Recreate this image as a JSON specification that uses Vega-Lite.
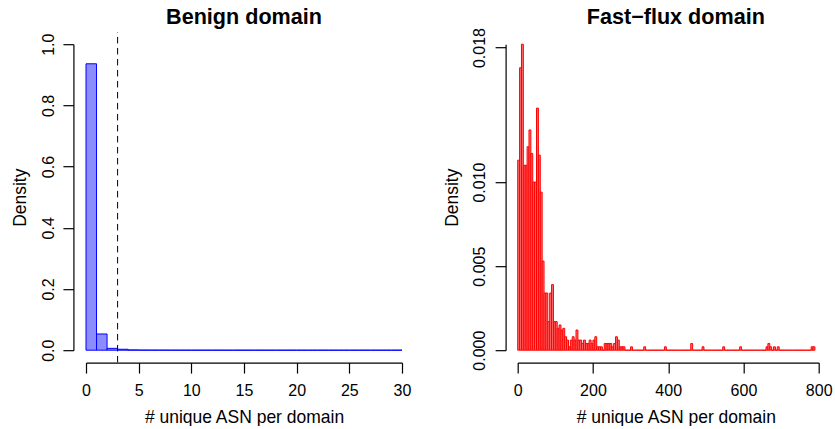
{
  "$schema": "https://vega.github.io/schema/vega-lite/v6.json",
  "background": "white",
  "autosize": {"type": "pad"},
  "padding": {"left": 11, "top": 6.2, "right": 0, "bottom": 0},
  "bounds": "flush",
  "spacing": 115.7,
  "config": {
    "view": {"stroke": null},
    "font": "Liberation Sans",
    "axis": {
      "grid": false,
      "domainColor": "#000000",
      "domainWidth": 1.2,
      "tickColor": "#000000",
      "tickWidth": 1.2,
      "tickSize": 10.5,
      "labelColor": "#000000",
      "labelFont": "Liberation Sans",
      "labelFontSize": 16,
      "labelFlush": false,
      "labelOverlap": false,
      "titleColor": "#000000",
      "titleFont": "Liberation Sans",
      "titleFontSize": 17.5,
      "titleFontWeight": "normal",
      "minExtent": 0,
      "maxExtent": 500
    },
    "title": {
      "font": "Liberation Sans",
      "fontSize": 21.6,
      "fontWeight": "bold",
      "color": "#000000",
      "anchor": "middle",
      "frame": "group"
    }
  },
  "datasets": {
    "benign": [
      {"bin_start": 0, "bin_end": 1, "density": 0.936},
      {"bin_start": 1, "bin_end": 2, "density": 0.053},
      {"bin_start": 2, "bin_end": 3, "density": 0.006},
      {"bin_start": 3, "bin_end": 4, "density": 0.003},
      {"bin_start": 4, "bin_end": 5, "density": 0.0008},
      {"bin_start": 5, "bin_end": 6, "density": 0.0004},
      {"bin_start": 6, "bin_end": 7, "density": 0.0003},
      {"bin_start": 7, "bin_end": 8, "density": 0.0002},
      {"bin_start": 8, "bin_end": 9, "density": 0.0001},
      {"bin_start": 9, "bin_end": 10, "density": 0.0001},
      {"bin_start": 10, "bin_end": 11, "density": 0.0001},
      {"bin_start": 11, "bin_end": 12, "density": 0.0001},
      {"bin_start": 12, "bin_end": 13, "density": 0.0001},
      {"bin_start": 13, "bin_end": 14, "density": 0},
      {"bin_start": 14, "bin_end": 15, "density": 0.0001},
      {"bin_start": 15, "bin_end": 16, "density": 0},
      {"bin_start": 16, "bin_end": 17, "density": 0.0001},
      {"bin_start": 17, "bin_end": 18, "density": 0},
      {"bin_start": 18, "bin_end": 19, "density": 0},
      {"bin_start": 19, "bin_end": 20, "density": 0.0001},
      {"bin_start": 20, "bin_end": 21, "density": 0},
      {"bin_start": 21, "bin_end": 22, "density": 0},
      {"bin_start": 22, "bin_end": 23, "density": 0.0001},
      {"bin_start": 23, "bin_end": 24, "density": 0},
      {"bin_start": 24, "bin_end": 25, "density": 0},
      {"bin_start": 25, "bin_end": 26, "density": 0},
      {"bin_start": 26, "bin_end": 27, "density": 0.0001},
      {"bin_start": 27, "bin_end": 28, "density": 0},
      {"bin_start": 28, "bin_end": 29, "density": 0},
      {"bin_start": 29, "bin_end": 30, "density": 0.0001}
    ],
    "fastflux": [
      {"bin_start": 0, "bin_end": 5, "density": 0.0113},
      {"bin_start": 5, "bin_end": 10, "density": 0.0168},
      {"bin_start": 10, "bin_end": 15, "density": 0.0182},
      {"bin_start": 15, "bin_end": 20, "density": 0.011},
      {"bin_start": 20, "bin_end": 25, "density": 0.011},
      {"bin_start": 25, "bin_end": 30, "density": 0.0121},
      {"bin_start": 30, "bin_end": 35, "density": 0.0131},
      {"bin_start": 35, "bin_end": 40, "density": 0.0117},
      {"bin_start": 40, "bin_end": 45, "density": 0.01},
      {"bin_start": 45, "bin_end": 50, "density": 0.01},
      {"bin_start": 50, "bin_end": 55, "density": 0.0144},
      {"bin_start": 55, "bin_end": 60, "density": 0.0116},
      {"bin_start": 60, "bin_end": 65, "density": 0.0094},
      {"bin_start": 65, "bin_end": 70, "density": 0.0053},
      {"bin_start": 70, "bin_end": 75, "density": 0.0034},
      {"bin_start": 75, "bin_end": 80, "density": 0.0034},
      {"bin_start": 80, "bin_end": 85, "density": 0.0017},
      {"bin_start": 85, "bin_end": 90, "density": 0.0034},
      {"bin_start": 90, "bin_end": 95, "density": 0.0039},
      {"bin_start": 95, "bin_end": 100, "density": 0.0017},
      {"bin_start": 100, "bin_end": 105, "density": 0.0017},
      {"bin_start": 105, "bin_end": 110, "density": 0.0013},
      {"bin_start": 110, "bin_end": 115, "density": 0.0015},
      {"bin_start": 115, "bin_end": 120, "density": 0.0012},
      {"bin_start": 120, "bin_end": 125, "density": 0.0013},
      {"bin_start": 125, "bin_end": 130, "density": 0.0008},
      {"bin_start": 130, "bin_end": 135, "density": 0.0006},
      {"bin_start": 135, "bin_end": 140, "density": 0.0002},
      {"bin_start": 140, "bin_end": 145, "density": 0.0006},
      {"bin_start": 145, "bin_end": 150, "density": 0.0008},
      {"bin_start": 150, "bin_end": 155, "density": 0.0006},
      {"bin_start": 155, "bin_end": 160, "density": 0.0012},
      {"bin_start": 160, "bin_end": 165, "density": 0.0006},
      {"bin_start": 165, "bin_end": 170, "density": 0.0006},
      {"bin_start": 170, "bin_end": 175, "density": 0.0004},
      {"bin_start": 175, "bin_end": 180, "density": 0.0006},
      {"bin_start": 180, "bin_end": 185, "density": 0.0004},
      {"bin_start": 185, "bin_end": 190, "density": 0.0004},
      {"bin_start": 190, "bin_end": 195, "density": 0.0006},
      {"bin_start": 195, "bin_end": 200, "density": 0.0004},
      {"bin_start": 200, "bin_end": 205, "density": 0.0006},
      {"bin_start": 205, "bin_end": 210, "density": 0.0008},
      {"bin_start": 210, "bin_end": 215, "density": 0.0002},
      {"bin_start": 215, "bin_end": 220, "density": 0.0002},
      {"bin_start": 220, "bin_end": 225, "density": 0.0002},
      {"bin_start": 225, "bin_end": 230, "density": 0},
      {"bin_start": 230, "bin_end": 235, "density": 0.0004},
      {"bin_start": 235, "bin_end": 240, "density": 0.0004},
      {"bin_start": 240, "bin_end": 245, "density": 0.0004},
      {"bin_start": 245, "bin_end": 250, "density": 0.0004},
      {"bin_start": 250, "bin_end": 255, "density": 0.0002},
      {"bin_start": 255, "bin_end": 260, "density": 0.0004},
      {"bin_start": 260, "bin_end": 265, "density": 0.0008},
      {"bin_start": 265, "bin_end": 270, "density": 0.0006},
      {"bin_start": 270, "bin_end": 275, "density": 0.0002},
      {"bin_start": 275, "bin_end": 280, "density": 0.0002},
      {"bin_start": 280, "bin_end": 285, "density": 0.0002},
      {"bin_start": 285, "bin_end": 290, "density": 0},
      {"bin_start": 290, "bin_end": 295, "density": 0},
      {"bin_start": 295, "bin_end": 300, "density": 0},
      {"bin_start": 300, "bin_end": 305, "density": 0.0002},
      {"bin_start": 305, "bin_end": 310, "density": 0},
      {"bin_start": 310, "bin_end": 315, "density": 0},
      {"bin_start": 315, "bin_end": 320, "density": 0},
      {"bin_start": 320, "bin_end": 325, "density": 0},
      {"bin_start": 325, "bin_end": 330, "density": 0},
      {"bin_start": 330, "bin_end": 335, "density": 0},
      {"bin_start": 335, "bin_end": 340, "density": 0.0002},
      {"bin_start": 340, "bin_end": 345, "density": 0},
      {"bin_start": 345, "bin_end": 350, "density": 0},
      {"bin_start": 350, "bin_end": 355, "density": 0},
      {"bin_start": 355, "bin_end": 360, "density": 0},
      {"bin_start": 360, "bin_end": 365, "density": 0},
      {"bin_start": 365, "bin_end": 370, "density": 0},
      {"bin_start": 370, "bin_end": 375, "density": 0},
      {"bin_start": 375, "bin_end": 380, "density": 0},
      {"bin_start": 380, "bin_end": 385, "density": 0},
      {"bin_start": 385, "bin_end": 390, "density": 0},
      {"bin_start": 390, "bin_end": 395, "density": 0.0002},
      {"bin_start": 395, "bin_end": 400, "density": 0},
      {"bin_start": 400, "bin_end": 405, "density": 0},
      {"bin_start": 405, "bin_end": 410, "density": 0},
      {"bin_start": 410, "bin_end": 415, "density": 0},
      {"bin_start": 415, "bin_end": 420, "density": 0},
      {"bin_start": 420, "bin_end": 425, "density": 0},
      {"bin_start": 425, "bin_end": 430, "density": 0},
      {"bin_start": 430, "bin_end": 435, "density": 0},
      {"bin_start": 435, "bin_end": 440, "density": 0},
      {"bin_start": 440, "bin_end": 445, "density": 0},
      {"bin_start": 445, "bin_end": 450, "density": 0},
      {"bin_start": 450, "bin_end": 455, "density": 0},
      {"bin_start": 455, "bin_end": 460, "density": 0},
      {"bin_start": 460, "bin_end": 465, "density": 0.0004},
      {"bin_start": 465, "bin_end": 470, "density": 0},
      {"bin_start": 470, "bin_end": 475, "density": 0},
      {"bin_start": 475, "bin_end": 480, "density": 0},
      {"bin_start": 480, "bin_end": 485, "density": 0},
      {"bin_start": 485, "bin_end": 490, "density": 0},
      {"bin_start": 490, "bin_end": 495, "density": 0.0002},
      {"bin_start": 495, "bin_end": 500, "density": 0},
      {"bin_start": 500, "bin_end": 505, "density": 0},
      {"bin_start": 505, "bin_end": 510, "density": 0},
      {"bin_start": 510, "bin_end": 515, "density": 0},
      {"bin_start": 515, "bin_end": 520, "density": 0},
      {"bin_start": 520, "bin_end": 525, "density": 0},
      {"bin_start": 525, "bin_end": 530, "density": 0},
      {"bin_start": 530, "bin_end": 535, "density": 0},
      {"bin_start": 535, "bin_end": 540, "density": 0},
      {"bin_start": 540, "bin_end": 545, "density": 0},
      {"bin_start": 545, "bin_end": 550, "density": 0.0002},
      {"bin_start": 550, "bin_end": 555, "density": 0},
      {"bin_start": 555, "bin_end": 560, "density": 0},
      {"bin_start": 560, "bin_end": 565, "density": 0},
      {"bin_start": 565, "bin_end": 570, "density": 0},
      {"bin_start": 570, "bin_end": 575, "density": 0},
      {"bin_start": 575, "bin_end": 580, "density": 0},
      {"bin_start": 580, "bin_end": 585, "density": 0},
      {"bin_start": 585, "bin_end": 590, "density": 0},
      {"bin_start": 590, "bin_end": 595, "density": 0.0002},
      {"bin_start": 595, "bin_end": 600, "density": 0},
      {"bin_start": 600, "bin_end": 605, "density": 0},
      {"bin_start": 605, "bin_end": 610, "density": 0},
      {"bin_start": 610, "bin_end": 615, "density": 0},
      {"bin_start": 615, "bin_end": 620, "density": 0},
      {"bin_start": 620, "bin_end": 625, "density": 0},
      {"bin_start": 625, "bin_end": 630, "density": 0},
      {"bin_start": 630, "bin_end": 635, "density": 0},
      {"bin_start": 635, "bin_end": 640, "density": 0},
      {"bin_start": 640, "bin_end": 645, "density": 0},
      {"bin_start": 645, "bin_end": 650, "density": 0},
      {"bin_start": 650, "bin_end": 655, "density": 0},
      {"bin_start": 655, "bin_end": 660, "density": 0},
      {"bin_start": 660, "bin_end": 665, "density": 0.0002},
      {"bin_start": 665, "bin_end": 670, "density": 0.0004},
      {"bin_start": 670, "bin_end": 675, "density": 0.0002},
      {"bin_start": 675, "bin_end": 680, "density": 0},
      {"bin_start": 680, "bin_end": 685, "density": 0.0002},
      {"bin_start": 685, "bin_end": 690, "density": 0},
      {"bin_start": 690, "bin_end": 695, "density": 0.0002},
      {"bin_start": 695, "bin_end": 700, "density": 0},
      {"bin_start": 700, "bin_end": 705, "density": 0},
      {"bin_start": 705, "bin_end": 710, "density": 0},
      {"bin_start": 710, "bin_end": 715, "density": 0},
      {"bin_start": 715, "bin_end": 720, "density": 0},
      {"bin_start": 720, "bin_end": 725, "density": 0},
      {"bin_start": 725, "bin_end": 730, "density": 0},
      {"bin_start": 730, "bin_end": 735, "density": 0},
      {"bin_start": 735, "bin_end": 740, "density": 0},
      {"bin_start": 740, "bin_end": 745, "density": 0},
      {"bin_start": 745, "bin_end": 750, "density": 0},
      {"bin_start": 750, "bin_end": 755, "density": 0},
      {"bin_start": 755, "bin_end": 760, "density": 0},
      {"bin_start": 760, "bin_end": 765, "density": 0},
      {"bin_start": 765, "bin_end": 770, "density": 0},
      {"bin_start": 770, "bin_end": 775, "density": 0},
      {"bin_start": 775, "bin_end": 780, "density": 0},
      {"bin_start": 780, "bin_end": 785, "density": 0.0002},
      {"bin_start": 785, "bin_end": 790, "density": 0.0002}
    ],
    "cutoff": [{"threshold": 3}]
  },
  "hconcat": [
    {
      "width": 316,
      "height": 306,
      "title": {"text": "Benign domain", "offset": 2.8},
      "layer": [
        {
          "data": {"name": "benign"},
          "mark": {"type": "rect", "fill": "#8c8cff", "stroke": "#0000ff", "strokeWidth": 1},
          "encoding": {
            "x": {
              "field": "bin_start",
              "type": "quantitative",
              "scale": {"domain": [0, 30], "nice": false, "zero": false},
              "axis": {
                "offset": 12.4,
                "values": [0, 5, 10, 15, 20, 25, 30],
                "labelBaseline": "top",
                "labelPadding": 9.6,
                "title": "# unique ASN per domain",
                "titleX": 158,
                "titleY": 60,
                "titleAlign": "center",
                "titleBaseline": "alphabetic"
              }
            },
            "x2": {"field": "bin_end"},
            "y": {
              "field": "density",
              "type": "quantitative",
              "scale": {"domain": [0, 1], "nice": false},
              "axis": {
                "offset": 12.6,
                "values": [0, 0.2, 0.4, 0.6, 0.8, 1.0],
                "format": ".1f",
                "labelAngle": -90,
                "labelAlign": "center",
                "labelBaseline": "alphabetic",
                "labelPadding": 9.9,
                "title": "Density",
                "titleX": -48.4,
                "titleY": 153,
                "titleAngle": -90,
                "titleAlign": "center",
                "titleBaseline": "alphabetic"
              }
            },
            "y2": {"datum": 0}
          }
        },
        {
          "data": {"name": "cutoff"},
          "mark": {"type": "rule", "color": "#000000", "strokeWidth": 1, "strokeDash": [6.5, 4.5]},
          "encoding": {
            "x": {"field": "threshold", "type": "quantitative"},
            "y": {"datum": -0.04},
            "y2": {"datum": 1.04}
          }
        }
      ]
    },
    {
      "width": 301,
      "height": 306,
      "title": {"text": "Fast−flux domain", "offset": -1.1, "dx": 7.6},
      "data": {"name": "fastflux"},
      "mark": {"type": "rect", "fill": "#ff7070", "stroke": "#ff0000", "strokeWidth": 1},
      "encoding": {
        "x": {
          "field": "bin_start",
          "type": "quantitative",
          "scale": {"domain": [0, 800], "nice": false, "zero": false},
          "axis": {
            "offset": 12.4,
            "values": [0, 200, 400, 600, 800],
            "labelBaseline": "top",
            "labelPadding": 9.6,
            "title": "# unique ASN per domain",
            "titleX": 158.1,
            "titleY": 60,
            "titleAlign": "center",
            "titleBaseline": "alphabetic"
          }
        },
        "x2": {"field": "bin_end"},
        "y": {
          "field": "density",
          "type": "quantitative",
          "scale": {"domain": [0, 0.0182], "nice": false},
          "axis": {
            "offset": 12.1,
            "values": [0, 0.005, 0.01, 0.018],
            "format": ".3f",
            "labelAngle": -90,
            "labelAlign": "center",
            "labelBaseline": "alphabetic",
            "labelPadding": 10.2,
            "title": "Density",
            "titleX": -48.1,
            "titleY": 153,
            "titleAngle": -90,
            "titleAlign": "center",
            "titleBaseline": "alphabetic"
          }
        },
        "y2": {"datum": 0}
      }
    }
  ]
}
